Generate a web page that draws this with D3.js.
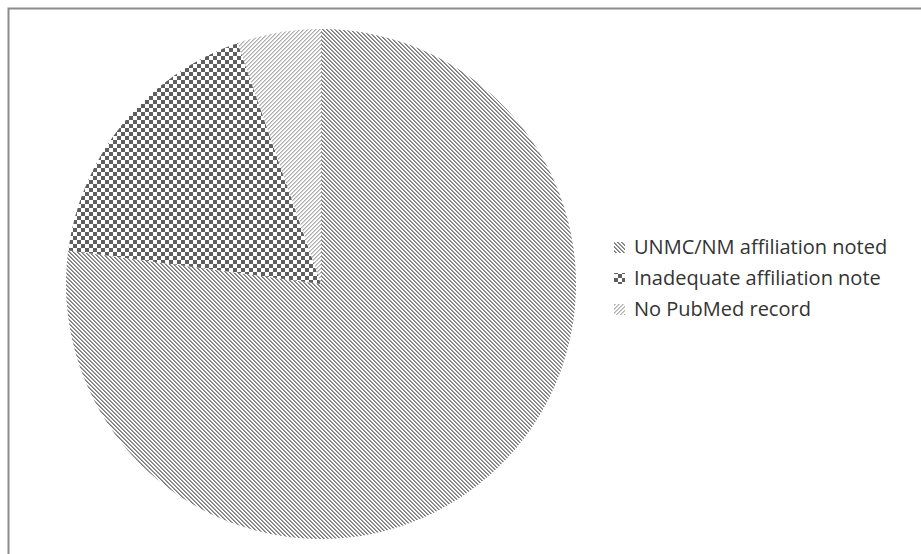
<!DOCTYPE html>
<html>
<head>
<meta charset="utf-8">
<script src="https://cdn.jsdelivr.net/npm/d3@7"></script>
<style>
html,body{margin:0;padding:0;background:#fff;}
svg{display:block;}
</style>
</head>
<body>
<svg id="chart" width="921" height="554"></svg>
<script>
const categories = ["UNMC/NM affiliation noted", "Inadequate affiliation note", "No PubMed record"];
const values = [77.1, 17.6, 5.3];
const patternIds = ["pat-down", "pat-check", "pat-up"];

const svg = d3.select("#chart");
const W = 921, H = 554;

// border
svg.append("rect").attr("x", 8.5).attr("y", 8.5).attr("width", W).attr("height", H)
  .attr("fill", "none").attr("stroke", "#8c8c8c").attr("stroke-width", 2);

const defs = svg.append("defs");
// downward diagonal (\\) medium gray
const p1 = defs.append("pattern").attr("id", "pat-down").attr("patternUnits", "userSpaceOnUse")
  .attr("width", 4).attr("height", 4);
p1.append("rect").attr("width", 4).attr("height", 4).attr("fill", "#ffffff");
for (let y = 0; y < 4; y++) {
  p1.append("rect").attr("x", y).attr("y", y).attr("width", 1).attr("height", 1).attr("fill", "#7a7a7a");
  p1.append("rect").attr("x", (y + 1) % 4).attr("y", y).attr("width", 1).attr("height", 1).attr("fill", "#9a9a9a");
}
// checkerboard
const p2 = defs.append("pattern").attr("id", "pat-check").attr("patternUnits", "userSpaceOnUse")
  .attr("width", 8).attr("height", 8);
p2.append("rect").attr("width", 8).attr("height", 8).attr("fill", "#ffffff");
p2.append("rect").attr("x", 0).attr("y", 0).attr("width", 4).attr("height", 4).attr("fill", "#5f5f5f");
p2.append("rect").attr("x", 4).attr("y", 4).attr("width", 4).attr("height", 4).attr("fill", "#5f5f5f");
// upward diagonal (/) light gray
const p3 = defs.append("pattern").attr("id", "pat-up").attr("patternUnits", "userSpaceOnUse")
  .attr("width", 4).attr("height", 4);
p3.append("rect").attr("width", 4).attr("height", 4).attr("fill", "#ffffff");
for (let y = 0; y < 4; y++) {
  p3.append("rect").attr("x", (3 - y)).attr("y", y).attr("width", 1).attr("height", 1).attr("fill", "#b0b0b0");
  p3.append("rect").attr("x", (4 - y) % 4).attr("y", y).attr("width", 1).attr("height", 1).attr("fill", "#cfcfcf");
}

const cx = 321, cy = 284, r = 255;
const pie = d3.pie().sort(null).value(d => d);
const arc = d3.arc().innerRadius(0).outerRadius(r);
const g = svg.append("g").attr("transform", `translate(${cx},${cy})`);
g.selectAll("path").data(pie(values)).join("path")
  .attr("d", arc)
  .attr("fill", (d, i) => `url(#${patternIds[i]})`);

// legend
const legendY = d3.scalePoint().domain(categories).range([247, 309]);
const lg = svg.append("g");
const items = lg.selectAll("g").data(categories).join("g")
  .attr("transform", d => `translate(614,${legendY(d)})`);
items.append("rect").attr("x", 0).attr("y", -5).attr("width", 11).attr("height", 11)
  .attr("fill", (d, i) => `url(#${patternIds[i]})`);
items.append("text").attr("x", 20).attr("y", 0).attr("dy", "0.36em")
  .attr("font-family", "'Open Sans', sans-serif").attr("font-size", 20)
  .attr("fill", "#333333").text(d => d);
</script>
</body>
</html>
